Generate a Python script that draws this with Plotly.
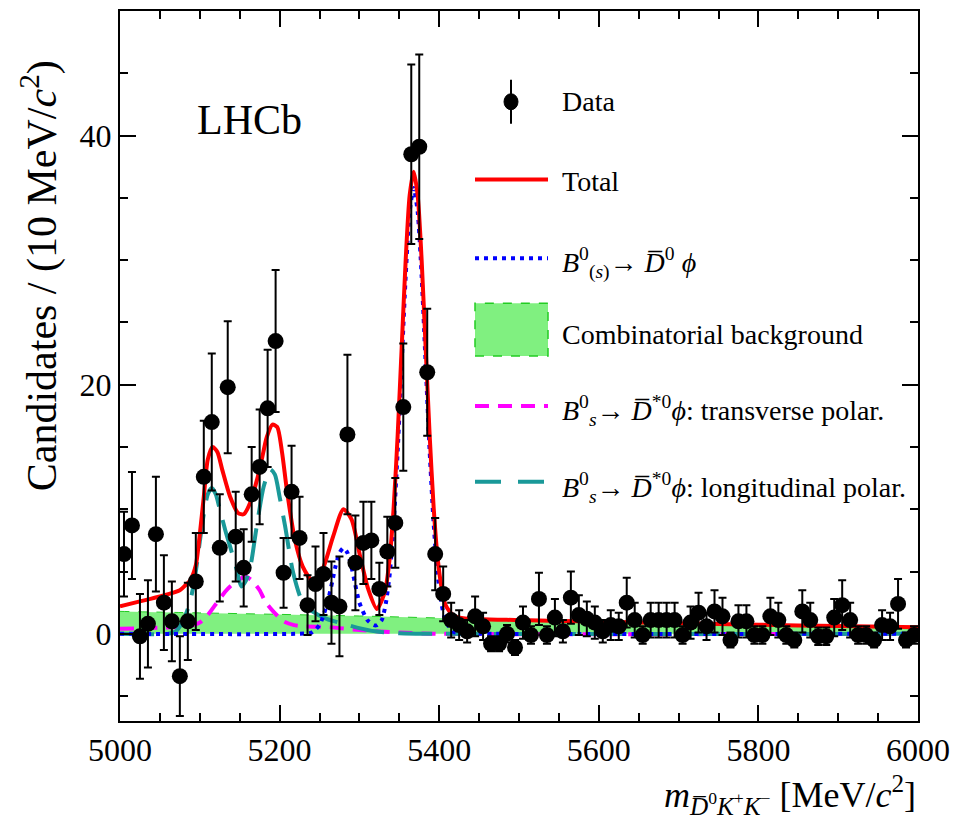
import plotly.graph_objects as go

# ---------------- data ----------------
bin_centers = list(range(5005, 6000, 10))  # 10 MeV bins

data_values = [
    6.4, 8.7, -0.2, 0.8, 8.0, 2.5, 1.0, -3.4, 1.0, 4.2,
    12.6, 17.0, 6.9, 19.8, 7.8, 5.3, 11.2, 13.4, 18.1, 23.5,
    4.9, 11.4, 7.7, 2.3, 4.0, 4.8, 2.5, 2.2, 16.0, 5.7,
    7.3, 7.5, 3.6, 6.6, 8.9, 18.2, 38.5, 39.1, 21.0, 6.4,
    3.2, 1.1, 0.7, 0.2, 1.4, 0.6, -0.8, -0.8, 0.0, -1.1,
    0.9, -0.1, 2.8, -0.1, 1.3, 0.2, 2.9, 1.5, 1.2, 0.9,
    0.2, 0.7, 0.6, 2.5, 1.1, -0.1, 1.1, 1.1, 1.1, 1.1,
    -0.1, 0.9, 1.7, 0.6, 1.8, 1.4, -0.5, 1.0, 1.0, -0.1,
    -0.1, 1.4, 1.1, -0.1, -0.5, 1.8, 1.1, -0.2, -0.2, 1.3,
    2.3, 1.1, -0.1, -0.1, -0.5, 0.7, 0.6, 2.4, -0.5, -0.1,
]
data_errors = [
    3.4, 4.3, 3.4, 3.5, 4.6, 3.8, 3.2, 3.2, 3.1, 3.9,
    4.5, 5.5, 4.3, 5.3, 3.6, 3.1, 3.8, 4.6, 4.7, 5.7,
    2.8, 3.7, 3.3, 2.4, 3.0, 3.3, 3.3, 4.0, 6.4, 3.8,
    3.3, 3.1, 2.1, 2.8, 3.6, 5.1, 7.2, 7.4, 5.1, 2.9,
    2.2, 1.4, 1.2, 0.9, 1.6, 1.1, 0.6, 0.6, 0.7, 0.6,
    1.3, 0.7, 2.1, 0.7, 1.5, 0.9, 2.1, 1.6, 1.4, 1.3,
    0.9, 1.2, 1.1, 2.0, 1.4, 0.7, 1.4, 1.4, 1.4, 1.4,
    0.7, 1.3, 1.6, 1.1, 1.7, 1.5, 0.6, 1.3, 1.3, 0.7,
    0.7, 1.5, 1.4, 0.7, 0.6, 1.7, 1.4, 0.7, 0.7, 1.5,
    2.0, 1.4, 0.7, 0.7, 0.6, 1.2, 1.1, 2.0, 0.6, 0.7,
]

# Total fit (red)
total_x = [5000, 5025, 5050, 5075, 5082, 5088, 5095, 5100, 5105, 5110, 5116, 5122,
           5128, 5138, 5148, 5155, 5163, 5175, 5184, 5191, 5197, 5203, 5209, 5219,
           5229, 5242, 5254, 5267, 5280, 5290, 5301, 5311, 5322, 5332, 5338, 5343,
           5348, 5353, 5358, 5363, 5368, 5373, 5378, 5383, 5388, 5393, 5398, 5403,
           5408, 5418, 5430, 5500, 5600, 5700, 5800, 5900, 6000]
total_y = [2.2, 2.6, 3.0, 3.5, 3.9, 4.3, 5.5, 8.0, 11.0, 14.0, 15.0, 14.6,
           13.2, 11.0, 9.7, 9.6, 10.5, 13.2, 15.8, 16.8, 16.6, 14.6, 11.6, 7.6,
           5.4, 4.2, 5.2, 7.8, 10.0, 9.2, 6.2, 3.6, 2.0, 3.4, 6.1, 10.2,
           16.0, 23.0, 30.0, 35.2, 37.1, 35.2, 30.0, 23.0, 16.0, 10.2, 6.1, 3.7,
           2.3, 1.45, 1.25, 1.1, 0.98, 0.85, 0.73, 0.62, 0.52]

# B0(s) -> D0bar phi (blue dotted)
sig_x = [5000, 5220, 5240, 5250, 5260, 5266, 5270, 5275, 5280, 5285, 5290, 5294,
         5300, 5310, 5318, 5322, 5328, 5333, 5338, 5343, 5348, 5353, 5358, 5363,
         5368, 5373, 5378, 5383, 5388, 5393, 5398, 5403, 5408, 5418, 5430, 5450, 6000]
sig_y = [0, 0, 0.1, 0.7, 2.5, 4.2, 5.4, 6.5, 6.9, 6.5, 5.4, 4.2,
         2.5, 1.1, 0.7, 0.7, 1.1, 2.4, 4.8, 8.9, 14.7, 21.7, 28.7, 33.9,
         35.8, 33.9, 28.7, 21.7, 14.7, 8.9, 4.8, 2.4, 1.0, 0.15, 0.02, 0, 0]

# Combinatorial background (green band)
bkg_x = [5000, 5100, 5200, 5300, 5400, 5500, 5600, 5700, 5800, 5900, 6000]
bkg_y = [1.8, 1.68, 1.56, 1.43, 1.27, 1.12, 0.98, 0.85, 0.73, 0.62, 0.52]

# Bs -> D*0bar phi transverse (magenta dashed)
trans_x = [5000, 5050, 5085, 5100, 5110, 5118, 5125, 5132, 5138, 5148, 5157, 5165,
           5175, 5182, 5192, 5205, 5218, 5230, 5260, 5300, 5350, 5400, 6000]
trans_y = [0.4, 0.5, 0.6, 0.9, 1.5, 2.2, 2.8, 3.4, 3.8, 4.3, 4.6, 4.3,
           3.5, 2.6, 1.8, 1.0, 0.7, 0.6, 0.55, 0.3, 0.1, 0, 0]

# Bs -> D*0bar phi longitudinal (teal long-dashed)
long_x = [5000, 5060, 5070, 5078, 5085, 5090, 5095, 5100, 5105, 5110, 5115, 5120,
          5125, 5132, 5138, 5146, 5152, 5158, 5164, 5171, 5180, 5188, 5194, 5200,
          5207, 5217, 5229, 5241, 5259, 5280, 5297, 5320, 5350, 5400, 6000]
long_y = [0, 0, 0.2, 0.9, 2.0, 3.2, 5.0, 7.4, 9.6, 11.2, 11.7, 11.2,
          10.0, 8.3, 7.0, 5.2, 3.8, 4.3, 5.6, 8.5, 11.8, 13.2, 12.8, 11.0,
          8.6, 4.9, 2.5, 1.8, 1.2, 0.8, 0.5, 0.2, 0.05, 0, 0]

x_ticks = [5000, 5200, 5400, 5600, 5800, 6000]
y_ticks = [0, 20, 40]

# ---------------- style ----------------
FONT = "Liberation Serif"
RED = "#ff0000"
BLUE = "#0000ff"
GREEN_FILL = "#80f080"
GREEN_LINE = "#22cc22"
MAGENTA = "#ff00ff"
TEAL = "#1a9999"

fig = go.Figure()

fig.add_trace(go.Scatter(
    x=bkg_x, y=bkg_y, mode="lines", fill="tozeroy", fillcolor=GREEN_FILL,
    line=dict(color=GREEN_LINE, width=1, dash="dash", shape="spline"),
    showlegend=False, hoverinfo="skip"))
fig.add_trace(go.Scatter(
    x=trans_x, y=trans_y, mode="lines",
    line=dict(color=MAGENTA, width=4, dash="14px,9px", shape="spline", smoothing=0.7),
    showlegend=False))
fig.add_trace(go.Scatter(
    x=long_x, y=long_y, mode="lines",
    line=dict(color=TEAL, width=4, dash="34px,14px", shape="spline", smoothing=0.7),
    showlegend=False))
fig.add_trace(go.Scatter(
    x=sig_x, y=sig_y, mode="lines",
    line=dict(color=BLUE, width=4, dash="4px,5px", shape="spline", smoothing=0.6),
    showlegend=False))
fig.add_trace(go.Scatter(
    x=total_x, y=total_y, mode="lines",
    line=dict(color=RED, width=4, shape="spline", smoothing=0.7),
    showlegend=False))
fig.add_trace(go.Scatter(
    x=bin_centers, y=data_values, mode="markers",
    marker=dict(color="black", size=16),
    error_y=dict(type="data", array=data_errors, visible=True,
                 color="black", thickness=2, width=4),
    showlegend=False))

# ---------------- manual legend ----------------
L, R, T, B = 120, 918, 9, 721
W, H = R - L, B - T


def px(xpix):
    return (xpix - L) / W


def py(ypix):
    return (B - ypix) / H


shapes = []
# Data symbol
shapes.append(dict(type="line", xref="paper", yref="paper",
                   x0=px(511), x1=px(511), y0=py(122), y1=py(78),
                   line=dict(color="black", width=2)))
shapes.append(dict(type="circle", xref="paper", yref="paper",
                   x0=px(504), x1=px(518), y0=py(108), y1=py(92),
                   fillcolor="black", line=dict(color="black", width=1)))
# Total
shapes.append(dict(type="line", xref="paper", yref="paper",
                   x0=px(475), x1=px(548), y0=py(178), y1=py(178),
                   line=dict(color=RED, width=4)))
# Signal
shapes.append(dict(type="line", xref="paper", yref="paper",
                   x0=px(475), x1=px(548), y0=py(257), y1=py(257),
                   line=dict(color=BLUE, width=4, dash="4px,5px")))
# Background box
shapes.append(dict(type="rect", xref="paper", yref="paper",
                   x0=px(475), x1=px(548), y0=py(355), y1=py(302),
                   fillcolor=GREEN_FILL, line=dict(color=GREEN_LINE, width=1.5, dash="dash")))
# transverse
shapes.append(dict(type="line", xref="paper", yref="paper",
                   x0=px(475), x1=px(548), y0=py(405), y1=py(405),
                   line=dict(color=MAGENTA, width=4, dash="14px,9px")))
# longitudinal
shapes.append(dict(type="line", xref="paper", yref="paper",
                   x0=px(475), x1=px(548), y0=py(481), y1=py(481),
                   line=dict(color=TEAL, width=4, dash="26px,17px")))

legend_texts = [
    ("Data", 100),
    ("Total", 180),
    ("<i>B</i><sup>0</sup><sub>(<i>s</i>)</sub>\u2192 <i>D\u0305</i><sup>0</sup> <i>\u03d5</i>", 262),
    ("Combinatorial background", 333),
    ("<i>B</i><sup>0</sup><sub><i>s</i></sub>\u2192 <i>D\u0305</i><sup>*0</sup><i>\u03d5</i>: transverse polar.", 410),
    ("<i>B</i><sup>0</sup><sub><i>s</i></sub>\u2192 <i>D\u0305</i><sup>*0</sup><i>\u03d5</i>: longitudinal polar.", 487),
]
annotations = []
for txt, ypix in legend_texts:
    annotations.append(dict(text=txt, xref="paper", yref="paper", x=px(560), y=py(ypix),
                            xanchor="left", yanchor="middle", showarrow=False,
                            font=dict(family=FONT, size=28, color="black")))

annotations.append(dict(text="LHCb", xref="paper", yref="paper", x=px(195), y=py(118),
                        xanchor="left", yanchor="middle", showarrow=False,
                        font=dict(family=FONT, size=42, color="black")))
annotations.append(dict(text="Candidates / (10 MeV/<i>c</i><sup>2</sup>)", xref="paper", yref="paper",
                        x=px(40), y=py(275), xanchor="center", yanchor="middle", textangle=-90,
                        showarrow=False, font=dict(family=FONT, size=42, color="black")))
annotations.append(dict(text="<i>m</i><sub><i>D\u0305</i><sup>0</sup><i>K</i><sup>+</sup><i>K</i><sup>\u2212</sup></sub> [MeV/<i>c</i><sup>2</sup>]",
                        xref="paper", yref="paper", x=1.0, y=py(795),
                        xanchor="right", yanchor="middle", showarrow=False,
                        font=dict(family=FONT, size=36, color="black")))

fig.update_layout(
    width=965, height=831,
    margin=dict(l=L, r=965 - R, t=T, b=831 - B),
    paper_bgcolor="white", plot_bgcolor="white",
    font=dict(family=FONT, size=32, color="black"),
    shapes=shapes, annotations=annotations,
    showlegend=False,
)
fig.update_xaxes(
    range=[5000, 6000], tickvals=x_ticks, ticktext=[str(v) for v in x_ticks],
    ticks="inside", ticklen=16, tickwidth=2, tickcolor="black",
    minor=dict(dtick=50, ticks="inside", ticklen=8, tickwidth=2, tickcolor="black"),
    showline=True, linewidth=2, linecolor="black", mirror="ticks",
    showgrid=False, zeroline=False, tickfont=dict(family=FONT, size=32),
)
fig.update_yaxes(
    range=[-7, 50], tickvals=y_ticks, ticktext=[str(v) for v in y_ticks],
    ticks="inside", ticklen=16, tickwidth=2, tickcolor="black",
    minor=dict(dtick=5, ticks="inside", ticklen=8, tickwidth=2, tickcolor="black"),
    showline=True, linewidth=2, linecolor="black", mirror="ticks",
    showgrid=False, zeroline=False, tickfont=dict(family=FONT, size=32),
)

fig.write_html("out.html")
